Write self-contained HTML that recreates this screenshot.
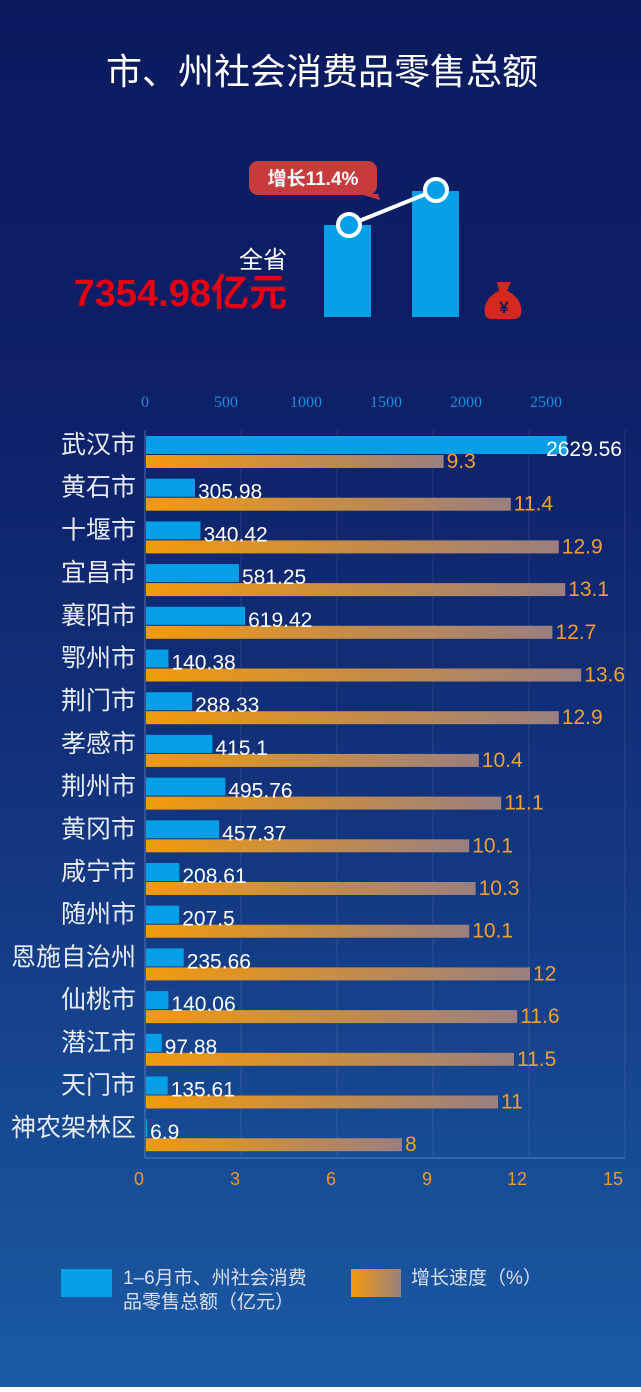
<!DOCTYPE html>
<html><head><meta charset="utf-8"><style>
html,body{margin:0;padding:0}
body{width:641px;height:1387px;overflow:hidden;font-family:"Liberation Sans","Noto Sans CJK SC",sans-serif}
</style></head><body>
<svg width="641" height="1387" xmlns="http://www.w3.org/2000/svg" font-family="Liberation Sans, Noto Sans CJK SC, sans-serif">
<defs>
<linearGradient id="bg" x1="0" y1="0" x2="0" y2="1">
<stop offset="0" stop-color="#0b1a5d"/><stop offset="0.3" stop-color="#0d2169"/><stop offset="0.6" stop-color="#13357f"/><stop offset="1" stop-color="#1a5ba4"/>
</linearGradient>
<linearGradient id="og" x1="0" y1="0" x2="1" y2="0">
<stop offset="0" stop-color="#f39a0c"/><stop offset="1" stop-color="#9a7f80"/>
</linearGradient>
</defs>
<rect width="641" height="1387" fill="url(#bg)"/>
<text x="322" y="84" fill="#fff" font-size="36" text-anchor="middle">市、州社会消费品零售总额</text>
<rect x="324" y="225" width="47" height="92" fill="#03a0e8"/>
<rect x="412" y="191" width="47" height="126" fill="#03a0e8"/>
<line x1="349" y1="225" x2="436" y2="190" stroke="#fff" stroke-width="4"/>
<circle cx="349" cy="225" r="11" fill="#03a0e8" stroke="#fff" stroke-width="4"/>
<circle cx="436" cy="190" r="11" fill="#03a0e8" stroke="#fff" stroke-width="4"/>
<rect x="249" y="161" width="128" height="34" rx="9" fill="#c73b3c"/>
<polygon points="360,194 378,194 380,200" fill="#c73b3c"/>
<text x="313" y="185" fill="#fff" font-size="19" font-weight="bold" text-anchor="middle">增长11.4%</text>
<text x="287" y="268" fill="#fff" font-size="24" text-anchor="end">全省</text>
<text x="287" y="306" fill="#e60012" font-size="38" font-weight="bold" text-anchor="end">7354.98亿元</text>
<path d="M497,282 l14,0 l-4,9 c10,4 16,14 14,23 c-1,4 -4,5 -8,5 l-20,0 c-4,0 -7,-1 -8,-5 c-2,-9 4,-19 14,-23 z" fill="#d5291f"/>
<text x="504" y="313" fill="#0c1a5e" font-size="17" font-weight="bold" text-anchor="middle">¥</text>
<g fill="#1a8fd8" font-size="16" font-family="Liberation Serif, serif" text-anchor="middle">
<text x="145" y="407">0</text><text x="226" y="407">500</text><text x="306" y="407">1000</text><text x="386" y="407">1500</text><text x="466" y="407">2000</text><text x="546" y="407">2500</text>
</g>
<g stroke="#ffffff" stroke-opacity="0.1">
<line x1="241" y1="430" x2="241" y2="1158"/><line x1="337" y1="430" x2="337" y2="1158"/><line x1="433" y1="430" x2="433" y2="1158"/><line x1="529" y1="430" x2="529" y2="1158"/><line x1="625" y1="430" x2="625" y2="1158"/>
</g>
<line x1="145" y1="430" x2="145" y2="1158" stroke="#7fa0d0" stroke-opacity="0.6"/>
<line x1="145" y1="1158" x2="625" y2="1158" stroke="#7fa0d0" stroke-opacity="0.6"/>
<g fill="#e89a2a" font-size="18" text-anchor="middle">
<text x="139" y="1185">0</text><text x="235" y="1185">3</text><text x="331" y="1185">6</text><text x="427" y="1185">9</text><text x="517" y="1185">12</text><text x="613" y="1185">15</text>
</g>
<g id="rows" font-size="21"></g>
<rect x="61" y="1269" width="51" height="28" fill="#03a0e8"/>
<rect x="351" y="1269" width="50" height="28" fill="url(#og)"/>
<text x="123" y="1284" fill="#dcdff0" font-size="19">1–6月市、州社会消费</text>
<text x="123" y="1308" fill="#dcdff0" font-size="19">品零售总额（亿元）</text>
<text x="411" y="1284" fill="#dcdff0" font-size="19">增长速度（%）</text>
</svg>
<script>
var d=[["武汉市",2629.56,9.3],["黄石市",305.98,11.4],["十堰市",340.42,12.9],["宜昌市",581.25,13.1],["襄阳市",619.42,12.7],["鄂州市",140.38,13.6],["荆门市",288.33,12.9],["孝感市",415.1,10.4],["荆州市",495.76,11.1],["黄冈市",457.37,10.1],["咸宁市",208.61,10.3],["随州市",207.5,10.1],["恩施自治州",235.66,12],["仙桃市",140.06,11.6],["潜江市",97.88,11.5],["天门市",135.61,11],["神农架林区",6.9,8]];
var g=document.getElementById("rows"),s="";
d.forEach(function(r,i){var c=445+i*42.7,bw=r[1]*0.16,ow=r[2]*32;
s+='<text x="136" y="'+(c+8)+'" fill="#e8ecf5" font-size="25" text-anchor="end">'+r[0]+'</text>';
s+='<rect x="146" y="'+(c-9)+'" width="'+bw+'" height="18" fill="#03a0e8"/>';
s+='<rect x="146" y="'+(c+10)+'" width="'+ow+'" height="13" fill="url(#og)"/>';
if(i==0)s+='<text x="622" y="'+(c+11)+'" fill="#fff" text-anchor="end">'+r[1]+'</text>';
else s+='<text x="'+(146+bw+3)+'" y="'+(c+11)+'" fill="#fff">'+r[1]+'</text>';
s+='<text x="'+(146+ow+3)+'" y="'+(c+23)+'" fill="#f0a030">'+r[2]+'</text>';});
g.innerHTML=s;
</script>
</body></html>
